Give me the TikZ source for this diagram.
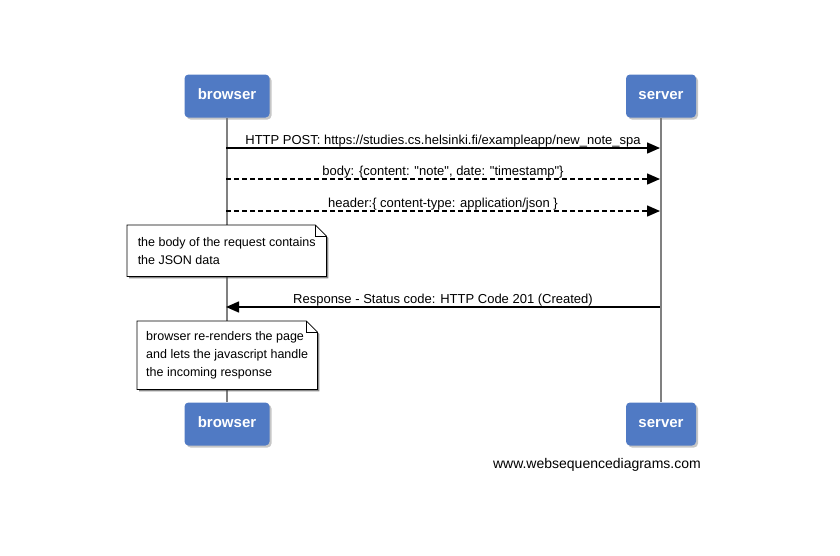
\documentclass[tikz,border=0pt]{standalone}
\usepackage{fontspec}
\setmainfont{Liberation Sans}
\usetikzlibrary{arrows.meta, positioning, calc, shadows, backgrounds}
\definecolor{actorblue}{RGB}{80, 122, 196}
\definecolor{lifegray}{RGB}{128, 128, 128}
\definecolor{shadowgray}{RGB}{60, 60, 60}

\begin{document}
\begin{tikzpicture}[x=1pt, y=-1pt,
    actor/.style={fill=actorblue, rounded corners=4pt, text=white,
        font=\fontsize{15}{18}\selectfont\bfseries, minimum height=43pt,
        text height=10pt, text depth=3pt,
        drop shadow={shadow xshift=2pt, shadow yshift=-2pt, opacity=0.45}},
    lifeline/.style={lifegray, line width=1.5pt},
    msg/.style={line width=1.5pt, -{Triangle[length=13pt, width=11pt]}},
    reply/.style={msg, dash pattern=on 5pt off 3pt},
    msgtext/.style={above, inner sep=0.5pt, font=\fontsize{13}{15}\selectfont},
    notetext/.style={inner xsep=5pt, align=left, font=\fontsize{12.5}{18}\selectfont},
    notebox/.style={draw=black, fill=white, line width=0.8pt,
        drop shadow={shadow xshift=2pt, shadow yshift=-2pt, opacity=0.6, fill=shadowgray}}]
    \useasboundingbox (0,0) rectangle (840,555);

    % actors
    \node[actor, minimum width=85pt] (browser top) at (227,96) {browser};
    \node[actor, minimum width=70pt] (server top) at (661,96) {server};
    \node[actor, minimum width=85pt] (browser bot) at (227,424) {browser};
    \node[actor, minimum width=70pt] (server bot) at (661,424) {server};

    % lifelines
    \begin{scope}[on background layer]
        \draw[lifeline] (browser top) -- (browser bot);
        \draw[lifeline] (server top) -- (server bot);
    \end{scope}

    % message ends
    \coordinate (b1) at (226,148);
    \coordinate (s1) at (660,148);
    \coordinate (b2) at (226,179);
    \coordinate (s2) at (660,179);
    \coordinate (b3) at (226,211);
    \coordinate (s3) at (660,211);
    \coordinate (b4) at (226,307);
    \coordinate (s4) at (660,307);

    % messages
    \draw[msg] (b1) -- (s1) node[msgtext, midway] {HTTP POST: https://studies.cs.helsinki.fi/exampleapp/new\_note\_spa};
    \draw[reply] (b2) -- (s2) node[msgtext, midway] {body: \{content: \textquotedbl note\textquotedbl, date: \textquotedbl timestamp\textquotedbl\}};
    \draw[reply] (b3) -- (s3) node[msgtext, midway] {header:\{ content-type: application/json \}};

    % note 1
    \node[notetext, minimum width=199pt, minimum height=51pt, anchor=north west] (note1) at (127,225)
        {the body of the request contains\\the JSON data};
    \begin{scope}[on background layer]
        \draw[notebox] (note1.north west) -- ($(note1.north east)+(-11,0)$) -- ($(note1.north east)+(0,11)$)
            -- (note1.south east) -- (note1.south west) -- cycle;
        \draw[line width=0.8pt] ($(note1.north east)+(-11,0)$) -- ++(0,11) -- ($(note1.north east)+(0,11)$);
    \end{scope}

    % response
    \draw[msg] (s4) -- (b4) node[msgtext, midway] {Response - Status code: HTTP Code 201 (Created)};

    % note 2
    \node[notetext, minimum width=180pt, minimum height=68pt, anchor=north west] (note2) at (137,321)
        {browser re-renders the page\\and lets the javascript handle\\the incoming response};
    \begin{scope}[on background layer]
        \draw[notebox] (note2.north west) -- ($(note2.north east)+(-11,0)$) -- ($(note2.north east)+(0,11)$)
            -- (note2.south east) -- (note2.south west) -- cycle;
        \draw[line width=0.8pt] ($(note2.north east)+(-11,0)$) -- ++(0,11) -- ($(note2.north east)+(0,11)$);
    \end{scope}

    \node[anchor=east, inner sep=0pt, font=\fontsize{14}{16}\selectfont] (credit) at (701,465) {www.websequencediagrams.com};
\end{tikzpicture}
\end{document}
